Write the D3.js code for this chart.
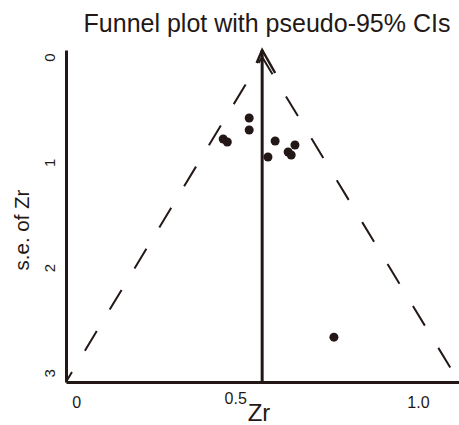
<!DOCTYPE html>
<html>
<head>
<meta charset="utf-8">
<script src="https://cdn.jsdelivr.net/npm/d3@7"></script>
<style>
  html, body { margin: 0; padding: 0; background: #fff; }
  svg { display: block; font-family: "Liberation Sans", Arial, sans-serif; }
</style>
</head>
<body>
<svg id="chart" width="459" height="425"></svg>
<script>
// ---- data ----
const studyZr = [0.506, 0.506, 0.430, 0.442, 0.582, 0.561, 0.640, 0.620, 0.629, 0.754];
const studySE = [0.579, 0.693, 0.778, 0.807, 0.797, 0.949, 0.835, 0.902, 0.930, 2.66];
const pooledZr = 0.544;
const funnelSE = [0, 3.086];
const funnelLeftZr = [0.544, -0.030];
const funnelRightZr = [0.544, 1.120];
const xTickValues = [0, 0.465, 1.0];
const xTickLabels = ["0", "0.5", "1.0"];
const yTickValues = [0, 1, 2, 3];
const yTickLabels = ["0", "1", "2", "3"];

const ink = "#231815";
const svg = d3.select("#chart");

const x = d3.scaleLinear().domain([-0.03, 1.12]).range([66, 459]);
const y = d3.scaleLinear().domain([-0.067, 3.086]).range([50, 382]);

// title
svg.append("text")
  .attr("x", 267).attr("y", 32)
  .attr("text-anchor", "middle")
  .attr("font-size", 25)
  .attr("fill", ink)
  .text("Funnel plot with pseudo-95% CIs");

// funnel dashed lines
const line = d3.line().x(d => x(d[0])).y(d => y(d[1]));
const leftPts = funnelSE.map((s, i) => [funnelLeftZr[i], s]);
const rightPts = funnelSE.map((s, i) => [funnelRightZr[i], s]);
svg.append("path").attr("d", line(leftPts))
  .attr("fill", "none").attr("stroke", ink).attr("stroke-width", 2)
  .attr("stroke-dasharray", "23,25").attr("stroke-dashoffset", 16);
svg.append("path").attr("d", line(rightPts))
  .attr("fill", "none").attr("stroke", ink).attr("stroke-width", 2)
  .attr("stroke-dasharray", "23,26").attr("stroke-dashoffset", 3);

// pooled estimate vertical line with arrow
const px = x(pooledZr);
svg.append("line")
  .attr("x1", px).attr("x2", px)
  .attr("y1", y.range()[0]).attr("y2", y.range()[1])
  .attr("stroke", ink).attr("stroke-width", 3);
svg.append("path")
  .attr("d", `M${px - 5.5},${y.range()[0] + 13} L${px},${y.range()[0]} L${px + 13},${y.range()[0] + 23}`)
  .attr("fill", "none").attr("stroke", ink).attr("stroke-width", 2.5);

// y axis
const yAxis = svg.append("g")
  .attr("transform", `translate(${x.range()[0]},0)`)
  .call(d3.axisLeft(y).tickValues(yTickValues).tickSize(0)
    .tickFormat((d, i) => yTickLabels[i]));
yAxis.select(".domain").attr("stroke", ink).attr("stroke-width", 3);
yAxis.selectAll(".tick text")
  .attr("x", null).attr("dy", null)
  .attr("transform", "translate(-11,0) rotate(-90)")
  .attr("text-anchor", "middle")
  .attr("dy", "0")
  .attr("font-size", 15)
  .attr("font-family", "Liberation Sans, Arial, sans-serif")
  .attr("fill", ink);

// x axis
const xAxis = svg.append("g")
  .attr("transform", `translate(0,${y.range()[1]})`)
  .call(d3.axisBottom(x).tickValues(xTickValues).tickSize(0)
    .tickFormat((d, i) => xTickLabels[i]));
xAxis.select(".domain").attr("stroke", ink).attr("stroke-width", 3);
xAxis.selectAll(".tick text")
  .attr("y", (d, i) => i === 1 ? 22 : 26)
  .attr("dy", "0")
  .attr("font-size", 16)
  .attr("font-family", "Liberation Sans, Arial, sans-serif")
  .attr("fill", ink);

// axis titles
svg.append("text")
  .attr("transform", "translate(29,230) rotate(-90)")
  .attr("text-anchor", "middle")
  .attr("font-size", 20.5)
  .attr("fill", ink)
  .text("s.e. of Zr");
svg.append("text")
  .attr("x", 259).attr("y", 421)
  .attr("text-anchor", "middle")
  .attr("font-size", 24)
  .attr("fill", ink)
  .text("Zr");

// study points
svg.append("g").selectAll("circle")
  .data(studyZr.map((z, i) => ({ z, s: studySE[i] })))
  .join("circle")
  .attr("cx", d => x(d.z))
  .attr("cy", d => y(d.s))
  .attr("r", 4.5)
  .attr("fill", ink);
</script>
</body>
</html>
